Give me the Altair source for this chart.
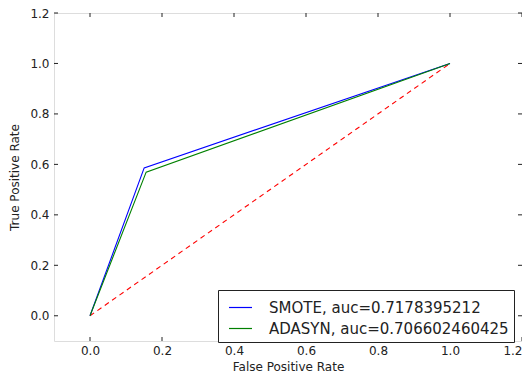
import altair as alt
import pandas as pd

# ROC curve points
models = ["SMOTE, auc=0.7178395212", "ADASYN, auc=0.706602460425"]
smote_fpr = [0.0, 0.1505, 1.0]
smote_tpr = [0.0, 0.5862, 1.0]
adasyn_fpr = [0.0, 0.1560, 1.0]
adasyn_tpr = [0.0, 0.5692, 1.0]
chance_fpr = [0.0, 1.0]
chance_tpr = [0.0, 1.0]
line_colors = ["#0000ff", "#008000"]
tick_vals = [0.0, 0.2, 0.4, 0.6, 0.8, 1.0, 1.2]

rows = []
for name, fx, fy in [(models[0], smote_fpr, smote_tpr), (models[1], adasyn_fpr, adasyn_tpr)]:
    for i, (a, b) in enumerate(zip(fx, fy)):
        rows.append({"model": name, "fpr": a, "tpr": b, "order": i})
df = pd.DataFrame(rows)
df_chance = pd.DataFrame({"fpr": chance_fpr, "tpr": chance_tpr})
df_ticks = pd.DataFrame({"v": tick_vals})

W, H = 468, 328
FONT = "DejaVu Sans"

xs = alt.Scale(domain=[-0.1, 1.2], nice=False, zero=False)
ys = alt.Scale(domain=[-0.1, 1.2], nice=False, zero=False)

xaxis = alt.Axis(values=tick_vals, format=".1f", title="False Positive Rate",
                 ticks=False, domain=False, grid=False, labelPadding=4,
                 labelFontSize=12, titleFontSize=12, titleFontWeight="normal",
                 labelFont=FONT, titleFont=FONT, labelColor="#222", titleColor="#222",
                 titlePadding=5, labelFlush=True)
yaxis = alt.Axis(values=tick_vals, format=".1f", title="True Positive Rate",
                 ticks=False, domain=False, grid=False, labelPadding=5,
                 labelFontSize=12, titleFontSize=12, titleFontWeight="normal",
                 labelFont=FONT, titleFont=FONT, labelColor="#222", titleColor="#222",
                 titlePadding=8, labelFlush=False)

lines = alt.Chart(df).mark_line(strokeWidth=1.1).encode(
    x=alt.X("fpr:Q", scale=xs, axis=xaxis),
    y=alt.Y("tpr:Q", scale=ys, axis=yaxis),
    color=alt.Color("model:N", scale=alt.Scale(domain=models, range=line_colors),
                    legend=alt.Legend(title=None, orient="none", legendX=164, legendY=277,
                                      symbolType="stroke", symbolSize=529, symbolStrokeWidth=1.2,
                                      labelFontSize=15, labelFont=FONT, labelColor="#222",
                                      labelLimit=400, labelOffset=16,
                                      strokeColor="#222", fillColor="white", padding=5,
                                      cornerRadius=0, rowPadding=0, symbolOffset=5)),
    order="order:Q",
)

chance = alt.Chart(df_chance).mark_line(color="#ff0000", strokeWidth=1.1, strokeDash=[5, 4]).encode(
    x=alt.X("fpr:Q", scale=xs),
    y=alt.Y("tpr:Q", scale=ys),
)

tk = alt.Chart(df_ticks).mark_rule(color="#222", strokeWidth=1)
xt_bottom = tk.encode(x=alt.X("v:Q", scale=xs), y=alt.value(H), y2=alt.value(H - 4))
xt_top = tk.encode(x=alt.X("v:Q", scale=xs), y=alt.value(0), y2=alt.value(4))
yt_left = tk.encode(y=alt.Y("v:Q", scale=ys), x=alt.value(0), x2=alt.value(4))
yt_right = tk.encode(y=alt.Y("v:Q", scale=ys), x=alt.value(W), x2=alt.value(W - 4))

chart = alt.layer(chance, lines, xt_bottom, xt_top, yt_left, yt_right).properties(
    width=W, height=H,
    autosize=alt.AutoSizeParams(type="none"),
    padding={"left": 46, "top": 5, "right": 0, "bottom": 35},
).configure_view(stroke="#222", strokeWidth=1.2).configure(background="white")

chart.save("out.html", embed_options={"renderer": "svg", "actions": False})
